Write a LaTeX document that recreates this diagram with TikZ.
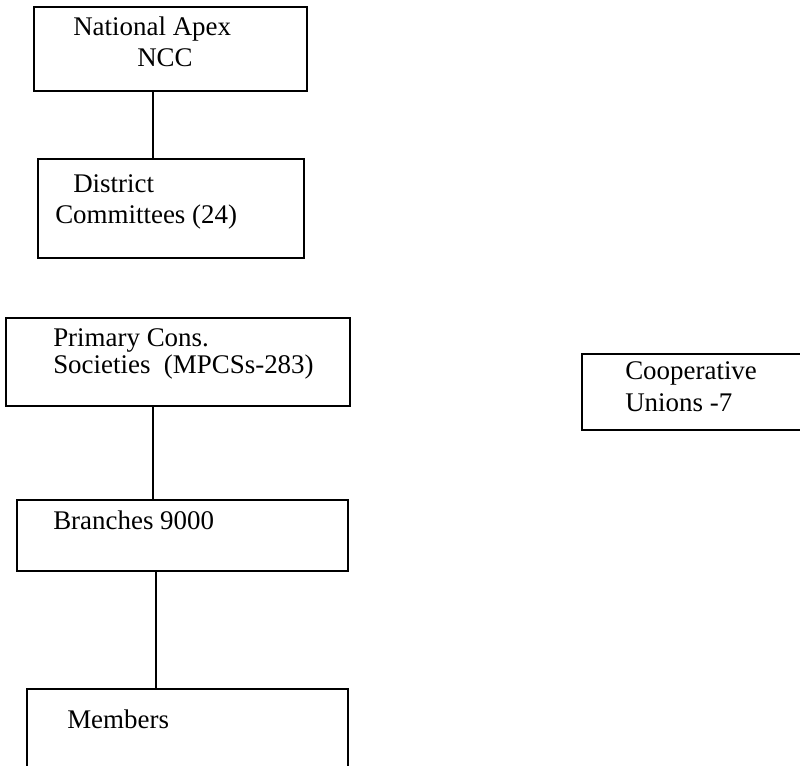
\documentclass[tikz,border=0pt]{standalone}
\usepackage{fontspec}
\setmainfont{Liberation Serif}
\begin{document}
\begin{tikzpicture}[x=0.75pt,y=-0.75pt,
  box/.style={draw,line width=2pt,inner sep=0pt},
  lbl/.style={anchor=base west,inner sep=0pt,font=\fontsize{20.2}{24}\selectfont},
  link/.style={line width=1.7pt}]
\clip (0,0) rectangle (800,766);
\node[box,minimum width=273*0.75pt,minimum height=84*0.75pt] (apex) at (170.5,49) {};
\node[box,minimum width=266*0.75pt,minimum height=99*0.75pt] (dist) at (171,208.5) {};
\node[box,minimum width=344*0.75pt,minimum height=88*0.75pt] (prim) at (178,362) {};
\node[box,minimum width=331*0.75pt,minimum height=71*0.75pt] (branch) at (182.5,535.5) {};
\node[box,minimum width=321*0.75pt,minimum height=110*0.75pt] (mem) at (187.5,744) {};
\node[box,minimum width=240*0.75pt,minimum height=76*0.75pt] (coop) at (702,392) {};
\node[lbl] (t1) at (73,36) {National Apex};
\node[lbl] (t2) at (137,67) {NCC};
\node[lbl] (t3) at (73,193) {District};
\node[lbl] (t4) at (55,224) {Committees (24)};
\node[lbl] (t5) at (53,347) {Primary Cons.};
\node[lbl] (t6) at (53,374) {Societies\ \ (MPCSs-283)};
\node[lbl] (t7) at (53,530) {Branches 9000};
\node[lbl] (t8) at (67,728) {Members};
\node[lbl] (t9) at (625,380) {Cooperative};
\node[lbl] (t10) at (625,412) {Unions -7};
\draw[link] (apex.south -| 153,0) -- (dist.north -| 153,0);
\draw[link] (prim.south -| 153,0) -- (branch.north -| 153,0);
\draw[link] (branch.south -| 156,0) -- (mem.north -| 156,0);
\end{tikzpicture}
\end{document}
